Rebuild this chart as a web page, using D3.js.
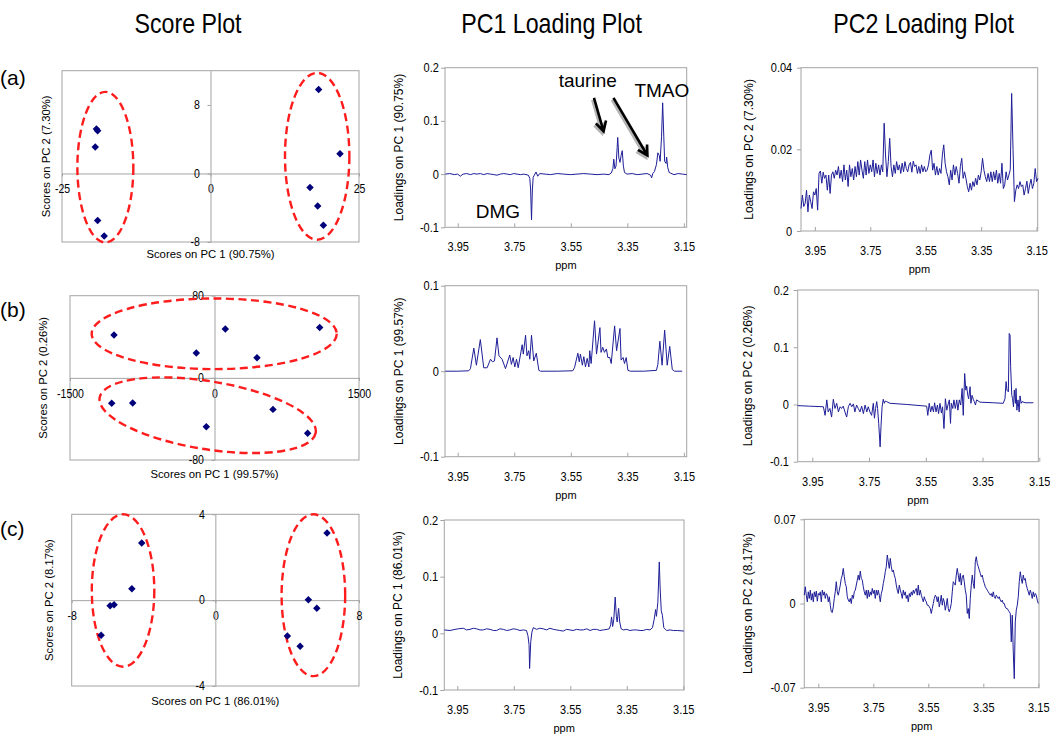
<!DOCTYPE html>
<meta charset="utf-8">
<style>
    body { margin: 0; background: #fff; }
    svg { font-family: "Liberation Sans", Arial, sans-serif; fill: #000; }
    .frame { fill: none; stroke: #a3a3a3; stroke-width: 1; }
    .axis path, .axis line { stroke: #a3a3a3; }
    .spec { fill: none; stroke: #1e1e98; stroke-width: 1; stroke-linejoin: round; }
    .ring { fill: none; stroke: #ff1c1c; stroke-width: 2.4; stroke-dasharray: 8,4.5; }
    .dot { fill: #00007a; }
</style>
<svg width="1050" height="735"></svg>
<script src="https://cdn.jsdelivr.net/npm/d3@7"></script>
<script>

    // ---- score plots: PC1 / PC2 scores of the ten samples ----
    var scoreA_PC1 = [-19.2, -19.0, -19.4, -19.0, -17.9, 18.2, 21.8, 16.75, 18.05, 19.0];
    var scoreA_PC2 = [5.2, 5.0, 3.1, -5.5, -7.3, 9.8, 2.3, -1.65, -3.8, -6.05];
    var scoreB_PC1 = [-1043, 112, 1092, -189, 441, -1067, -849, -85, 607, 967];
    var scoreB_PC2 = [41.7, 47.5, 49.1, 24.1, 19.6, -24.8, -24.5, -47.6, -30.7, -54];
    var scoreC_PC1 = [-4.10, -4.65, -5.86, -5.64, -6.36, 6.22, 5.18, 5.65, 4.01, 4.72];
    var scoreC_PC2 = [2.66, 0.53, -0.26, -0.21, -1.64, 3.13, 0.02, -0.38, -1.67, -2.15];

    // group rings: centre x, centre y, half width, half height (data units), tilt in degrees
    var ringsA = [[-17.7, 0.74, 4.71, 8.79, 0], [17.96, 2.01, 5.42, 9.74, 0]];
    var ringsB = [[-3, 42.9, 1272, 34.4, 0], [-71, -36.4, 1136, 33.1, 9.2]];
    var ringsC = [[-5.14, 0.45, 1.74, 3.55, 0], [5.46, 0.23, 1.77, 3.77, 0]];

    var scoreTicksA = {x: [-25, 0, 25], y: [-8, 0, 8]};
    var scoreTicksB = {x: [-1500, 0, 1500], y: [-80, 0, 80]};
    var scoreTicksC = {x: [-8, 0, 8], y: [-4, 0, 4]};

    // ---- loading spectra, [ppm, loading] ----
    var pc1a = [[3.994,0],[3.978,0.001],[3.962,-0.001],[3.950,0.000],[3.941,-0.004],[3.931,0],[3.918,0.001],
        [3.905,-0.001],[3.893,0.001],[3.882,0],[3.870,0.001],[3.858,-0.001],[3.846,0.001],[3.834,0],
        [3.822,-0.001],[3.811,-0.002],[3.799,0],[3.787,0.001],[3.775,0],[3.764,-0.001],[3.752,0.001],
        [3.740,0],[3.728,-0.001],[3.716,0],[3.700,-0.002],[3.695,-0.008],[3.692,-0.03],[3.689,-0.086],
        [3.686,-0.03],[3.683,-0.006],[3.679,-0.002],[3.673,0.004],[3.667,-0.004],[3.660,0.001],
        [3.641,0],[3.622,-0.001],[3.598,0.001],[3.575,0],[3.552,-0.001],[3.528,0],[3.504,0.001],
        [3.480,0],[3.457,-0.001],[3.433,0],[3.415,-0.001],[3.407,0.002],[3.401,0.010],[3.398,0.028],
        [3.394,0.010],[3.390,0.015],[3.386,0.05],[3.384,0.069],[3.380,0.030],[3.376,0.022],[3.372,0.035],
        [3.368,0.044],[3.364,0.015],[3.360,0.003],[3.351,0],[3.333,0.001],[3.315,-0.001],[3.298,0],
        [3.280,0.001],[3.268,-0.002],[3.264,-0.007],[3.260,0.001],[3.254,0.005],[3.247,0.018],
        [3.242,0.040],[3.237,0.035],[3.234,0.024],[3.229,0.07],[3.225,0.134],[3.221,0.07],[3.218,0.024],
        [3.213,0.020],[3.211,0.032],[3.207,0.012],[3.202,0.003],[3.185,-0.001],[3.170,0.001],
        [3.155,0],[3.140,-0.001]];

    var pc1b = [[3.994,0],[3.950,0],[3.911,0.0005],[3.905,0.003],[3.893,0.027],[3.884,0.007],
        [3.870,0.037],[3.858,0.004],[3.846,0.004],[3.834,0.014],[3.827,0.011],[3.820,0.012],
        [3.811,0.039],[3.804,0.018],[3.793,0.014],[3.781,0.003],[3.766,0.019],[3.760,0.008],
        [3.754,0.016],[3.748,0.005],[3.742,0.014],[3.736,0.004],[3.722,0.031],[3.718,0.020],
        [3.710,0.042],[3.705,0.018],[3.699,0.024],[3.695,0.014],[3.689,0.042],[3.681,0.012],
        [3.672,0.021],[3.663,0.001],[3.657,0],[3.598,0],[3.543,0.0005],[3.537,0.004],[3.525,0.021],
        [3.520,0.011],[3.516,0.020],[3.509,0.007],[3.504,0.017],[3.498,0.005],[3.492,0.015],
        [3.486,0.005],[3.483,0.024],[3.478,0.009],[3.466,0.059],[3.459,0.020],[3.447,0.051],
        [3.443,0.022],[3.437,0.028],[3.431,0.022],[3.424,0.026],[3.419,0.016],[3.412,0.016],
        [3.407,0.009],[3.395,0.053],[3.388,0.024],[3.376,0.050],[3.372,0.013],[3.365,0.016],
        [3.360,0.009],[3.354,0.016],[3.348,0.001],[3.339,0],[3.292,0],[3.247,0.001],[3.242,0.008],
        [3.235,0.035],[3.227,0.007],[3.218,0.048],[3.209,0.007],[3.200,0.029],[3.191,0.002],
        [3.183,0],[3.156,0]];

    var pc1c = [[3.996,0.006],[3.976,0.005],[3.958,0.007],[3.946,0.008],[3.929,0.009],[3.917,0.006],
        [3.905,0.007],[3.893,0.009],[3.882,0.008],[3.870,0.006],[3.858,0.006],[3.846,0.008],
        [3.834,0.007],[3.822,0.005],[3.811,0.005],[3.799,0.008],[3.787,0.007],[3.775,0.005],
        [3.764,0.006],[3.752,0.008],[3.740,0.007],[3.728,0.005],[3.716,0.006],[3.705,0.005],
        [3.700,-0.004],[3.696,-0.02],[3.694,-0.062],[3.690,-0.015],[3.686,0.002],[3.681,0.010],
        [3.669,0.007],[3.658,0.009],[3.646,0.008],[3.634,0.006],[3.622,0.009],[3.610,0.007],
        [3.598,0.006],[3.587,0.005],[3.575,0.004],[3.563,0.007],[3.551,0.006],[3.540,0.005],
        [3.528,0.007],[3.516,0.006],[3.504,0.006],[3.492,0.008],[3.480,0.005],[3.469,0.007],
        [3.457,0.007],[3.445,0.005],[3.433,0.006],[3.420,0.007],[3.412,0.008],[3.407,0.015],
        [3.404,0.029],[3.400,0.012],[3.396,0.025],[3.391,0.064],[3.387,0.030],[3.384,0.020],
        [3.379,0.044],[3.375,0.020],[3.370,0.008],[3.362,0.006],[3.350,0.007],[3.339,0.005],
        [3.327,0.006],[3.315,0.006],[3.303,0.005],[3.292,0.005],[3.280,0.007],[3.268,0.006],
        [3.259,0.010],[3.253,0.025],[3.248,0.042],[3.245,0.030],[3.240,0.055],[3.235,0.126],
        [3.232,0.080],[3.228,0.040],[3.224,0.032],[3.219,0.010],[3.209,0.005],[3.197,0.006],
        [3.185,0.005],[3.170,0.005],[3.148,0.004]];

    var pc2b = [[4.002,-0.002],[3.960,-0.003],[3.911,-0.004],[3.905,-0.019],[3.899,0.008],[3.894,-0.013],
        [3.888,-0.007],[3.882,-0.022],[3.876,0.009],[3.870,-0.007],[3.864,0.002],[3.858,-0.013],
        [3.852,-0.004],[3.847,-0.007],[3.841,-0.003],[3.835,-0.013],[3.829,-0.022],[3.823,-0.004],
        [3.817,0.002],[3.811,-0.004],[3.805,0.001],[3.800,-0.013],[3.794,-0.001],[3.788,-0.007],
        [3.782,-0.013],[3.776,-0.003],[3.770,-0.016],[3.764,-0.001],[3.758,-0.013],[3.753,-0.004],
        [3.747,-0.013],[3.741,-0.019],[3.735,0.002],[3.731,-0.024],[3.727,-0.007],[3.723,0.005],
        [3.720,-0.007],[3.716,-0.033],[3.711,-0.074],[3.708,-0.039],[3.704,-0.004],[3.700,0.009],
        [3.696,0.002],[3.693,0.006],[3.688,0.005],[3.676,0.002],[3.617,0],[3.547,-0.003],
        [3.543,-0.019],[3.538,0.002],[3.533,-0.013],[3.528,-0.003],[3.523,-0.013],[3.519,0.003],
        [3.514,-0.013],[3.509,-0.001],[3.505,-0.016],[3.500,0.002],[3.495,-0.015],[3.491,-0.004],
        [3.486,-0.042],[3.481,0.010],[3.476,-0.010],[3.472,-0.001],[3.467,0.008],[3.463,-0.033],
        [3.460,0.002],[3.455,-0.007],[3.451,0.008],[3.446,-0.007],[3.441,0.008],[3.437,-0.010],
        [3.432,0.008],[3.427,-0.001],[3.422,0.028],[3.418,-0.019],[3.413,0.054],[3.409,0.025],
        [3.406,0.032],[3.402,0.016],[3.399,0.010],[3.394,0.031],[3.391,0.002],[3.387,0.016],
        [3.382,0.008],[3.379,0.005],[3.375,-0.001],[3.371,0.008],[3.359,0.004],[3.312,0.003],
        [3.277,0.002],[3.271,0.010],[3.267,0.040],[3.264,0.025],[3.259,0.022],[3.256,0.124],
        [3.253,0.121],[3.251,0.066],[3.247,0.016],[3.244,0.010],[3.241,-0.004],[3.238,0.025],
        [3.234,0.002],[3.232,0.028],[3.229,-0.010],[3.225,0.008],[3.221,-0.013],[3.218,0.015],
        [3.214,0.002],[3.211,0.005],[3.200,0.003],[3.171,0.003]];

    // evenly sampled spectra: first ppm, ppm step, loadings
    var pc2aStart = 4.000, pc2aStep = 0.005;
    var pc2aLoad = [
        .0055,.0088,.0060,.0068,.0100,.0047,.0088,.0072,.0055,.0096,
        .0088,.0104,.0051,.0141,.0147,.0117,.0144,.0129,.0137,.0100,
        .0137,.0092,.0137,.0145,.0129,.0149,.0137,.0158,.0129,.0149,
        .0121,.0162,.0125,.0149,.0109,.0162,.0133,.0153,.0125,.0158,
        .0133,.0170,.0137,.0174,.0149,.0129,.0170,.0137,.0174,.0141,
        .0162,.0145,.0174,.0133,.0166,.0141,.0162,.0137,.0162,.0145,
        .0264,.0186,.0133,.0170,.0227,.0158,.0133,.0162,.0141,.0170,
        .0149,.0162,.0141,.0166,.0145,.0170,.0153,.0145,.0162,.0168,
        .0144,.0171,.0158,.0162,.0141,.0158,.0141,.0162,.0145,.0158,
        .0145,.0149,.0162,.0186,.0198,.0149,.0166,.0137,.0158,.0137,
        .0153,.0141,.0186,.0211,.0166,.0145,.0133,.0113,.0149,.0125,
        .0162,.0137,.0158,.0141,.0117,.0158,.0178,.0129,.0145,.0129,
        .0109,.0096,.0117,.0100,.0121,.0109,.0129,.0113,.0137,.0125,
        .0145,.0178,.0149,.0133,.0121,.0141,.0121,.0145,.0121,.0145,
        .0125,.0149,.0117,.0141,.0117,.0166,.0104,.0113,.0145,.0125,
        .0137,.0150,.0337,.0200,.0072,.0100,.0113,.0104,.0121,.0109,
        .0113,.0088,.0104,.0122,.0092,.0113,.0127,.0104,.0117,.0153,
        .0121,.0129];

    var pc2cStart = 4.001, pc2cStep = 0.003636;
    var pc2cLoad = [
        .0069,.0139,.0069,.0014,.0097,.0042,.0111,.0028,.0083,.0014,
        .0097,.0056,.0103,.0019,.0083,.0069,.0097,.0014,.0111,.0069,
        .0097,.0042,.0083,.0069,.0014,.0056,-.0014,-.0069,-.0075,-.0028,
        .0042,.0097,.0181,.0097,.0069,.0111,.0153,.0208,.0236,.0292,
        .0222,.0167,.0139,.0056,.0028,.0014,.0042,0,.0069,.0042,
        .0097,.0111,.0153,.0194,.0236,.0194,.0269,.0208,.0194,.0139,
        .0097,.0069,.0111,.0042,.0111,.0056,.0097,.0069,.0125,.0083,
        .0111,.0042,.0111,.0069,.0111,.0069,.0014,.0083,.0111,.0167,
        .0208,.0264,.0306,.0403,.0347,.0292,.0375,.0306,.0264,.0278,
        .0236,.0208,.0153,.0111,.0083,.0153,.0111,.0083,.0042,.0111,
        .0069,.0097,.0042,.0069,.0014,.0083,.0056,.0097,.0069,.0111,
        .0083,.0111,.0125,.0069,.0153,.0069,.0111,.0069,.0042,.0014,
        .0056,.0028,.0014,-.0014,-.0014,-.0028,-.0042,-.0083,-.0042,0,
        .0042,.0069,.0056,.0014,.0056,-.0028,.0014,.0069,-.0014,.0042,
        .0014,-.0056,-.0014,.0042,-.0042,-.0069,-.0042,0,.0097,.0181,
        .0167,.0153,.0236,.0292,.0236,.0181,.0250,.0153,.0222,.0236,
        .0181,.0111,.0069,
        -.0083,-.0042,-.0125,.0042,.0153,.0236,.0167,.0125,.0347,.0389,
        .0333,.0306,.0278,.0250,.0222,.0236,.0194,.0167,.0139,.0125,
        .0111,.0097,.0083,.0069,.0083,.0056,.0097,.0056,.0042,.0069,
        .0056,.0042,.0056,.0028,.0014,.0028,0,0,-.0028,-.0042,
        -.0042,-.0056,-.0069,-.0083,-.0319,-.0097,-.0403,-.0625,-.0153,-.0056,
        -.0014,.0056,.0181,.0264,.0208,.0167,.0236,.0194,.0208,.0153,
        .0125,.0097,.0069,.0111,.0083,.0042,.0097,.0056,.0083,.0069,
        .0028,0];

    var ppmTicks = [3.95, 3.75, 3.55, 3.35, 3.15];

    // labels on the PC1 loading of panel (a): text, ppm, loading (baseline)
    var notesPC1a = [["taurine", 3.49, 0.164], ["TMAO", 3.228, 0.1444], ["DMG", 3.808, -0.082]];
    // arrows: from ppm, loading -> to ppm, loading
    var arrowsPC1a = [[3.468, 0.1434, 3.434, 0.0805], [3.399, 0.1434, 3.279, 0.035]];

    function fromGrid(start, step, vals) {
        return vals.map(function(v, i) { return [start - i * step, v]; });
    }

    var svg = d3.select("svg");
    var fmt = function(d) { return String(d); };

    // tick text: black, a little narrow like the original figure
    function tickText(a, size) {
        a.attr("font-family", null);
        a.selectAll("text").style("font-size", size).attr("fill", "#000")
            .attr("transform", "scale(0.88,1)");
    }

    // column titles
    [["Score Plot", 188], ["PC1 Loading Plot", 551.5], ["PC2 Loading Plot", 923.5]].forEach(function(t) {
        svg.append("text")
            .attr("transform", "translate(" + t[1] + ",33) scale(0.86,1)")
            .attr("text-anchor", "middle")
            .style("font-size", "27px")
            .text(t[0]);
    });

    [["(a)", 85], ["(b)", 317], ["(c)", 536]].forEach(function(t) {
        svg.append("text").attr("x", 0).attr("y", t[1]).style("font-size", "21px").text(t[0]);
    });

    // ---------------- score plots ----------------
    var scorePanels = [
        {box: [62, 70.7, 359, 242], xDom: [-25, 25], yDom: [-8, 12], ticks: scoreTicksA,
            px: scoreA_PC1, py: scoreA_PC2, rings: ringsA, xTitle: "Scores on PC 1 (90.75%)",
            yTitle: "Scores on PC 2 (7.30%)", yTitleX: 46, xTitleDy: 12},
        {box: [70, 295.7, 359, 460], xDom: [-1500, 1500], yDom: [-80, 80], ticks: scoreTicksB,
            px: scoreB_PC1, py: scoreB_PC2, rings: ringsB, xTitle: "Scores on PC 1 (99.57%)",
            yTitle: "Scores on PC 2 (0.26%)", yTitleX: 43, xTitleDy: 14},
        {box: [71.7, 514.3, 359, 686], xDom: [-8, 8], yDom: [-4, 4], ticks: scoreTicksC,
            px: scoreC_PC1, py: scoreC_PC2, rings: ringsC, xTitle: "Scores on PC 1 (86.01%)",
            yTitle: "Scores on PC 2 (8.17%)", yTitleX: 49, xTitleDy: 15.5}
    ];

    scorePanels.forEach(function(p) {
        var x = d3.scaleLinear().domain(p.xDom).range([p.box[0], p.box[2]]),
            y = d3.scaleLinear().domain(p.yDom).range([p.box[3], p.box[1]]);
        var g = svg.append("g");

        g.append("rect").attr("class", "frame")
            .attr("x", p.box[0]).attr("y", p.box[1])
            .attr("width", p.box[2] - p.box[0]).attr("height", p.box[3] - p.box[1]);

        g.append("g").attr("class", "axis")
            .attr("transform", "translate(0," + y(0) + ")")
            .call(d3.axisBottom(x).tickValues(p.ticks.x).tickFormat(fmt).tickSizeInner(3).tickSizeOuter(0).tickPadding(8.5))
            .call(tickText, "12px");

        g.append("g").attr("class", "axis")
            .attr("transform", "translate(" + x(0) + ",0)")
            .call(d3.axisLeft(y).tickValues(p.ticks.y).tickFormat(fmt).tickSizeInner(3).tickSizeOuter(0).tickPadding(9))
            .call(tickText, "12px");

        g.selectAll("ellipse").data(p.rings).join("ellipse")
            .attr("class", "ring")
            .attr("cx", function(r) { return x(r[0]); })
            .attr("cy", function(r) { return y(r[1]); })
            .attr("rx", function(r) { return x(r[0] + r[2]) - x(r[0]); })
            .attr("ry", function(r) { return y(r[1]) - y(r[1] + r[3]); })
            .attr("transform", function(r) { return "rotate(" + r[4] + "," + x(r[0]) + "," + y(r[1]) + ")"; });

        g.selectAll("path.dot").data(d3.range(p.px.length)).join("path")
            .attr("class", "dot")
            .attr("d", d3.symbol(d3.symbolSquare, 28))
            .attr("transform", function(i) { return "translate(" + x(p.px[i]) + "," + y(p.py[i]) + ") rotate(45)"; });

        g.append("text")
            .attr("x", (p.box[0] + p.box[2]) / 2).attr("y", p.box[3] + p.xTitleDy)
            .attr("dy", "0.35em").attr("text-anchor", "middle")
            .style("font-size", "11.3px").text(p.xTitle);

        g.append("text")
            .attr("transform", "translate(" + p.yTitleX + "," + (p.box[1] + p.box[3]) / 2 + ") rotate(-90)")
            .attr("dy", "0.35em").attr("text-anchor", "middle")
            .style("font-size", "11.3px").text(p.yTitle);
    });

    // ---------------- loading plots ----------------
    var loadPanels = [
        {box: [445, 67.7, 686.7, 227.3], xDom: [3.995, 3.14], yDom: [-0.1, 0.2], yTicks: [-0.1, 0, 0.1, 0.2],
            data: pc1a, yTitle: "Loadings on PC 1 (90.75%)", yTitleX: 399, pad: 3},
        {box: [445, 285.7, 686.7, 456.7], xDom: [3.995, 3.14], yDom: [-0.1, 0.1], yTicks: [-0.1, 0, 0.1],
            data: pc1b, yTitle: "Loadings on PC 1 (99.57%)", yTitleX: 399, pad: 3},
        {box: [444.3, 520, 684, 690], xDom: [3.996, 3.1475], yDom: [-0.1, 0.2], yTicks: [-0.1, 0, 0.1, 0.2],
            data: pc1c, yTitle: "Loadings on PC 1 (86.01%)", yTitleX: 398, pad: 3},
        {box: [801, 67.7, 1037.7, 231], xDom: [4.0, 3.146], yDom: [0, 0.04], yTicks: [0, 0.02, 0.04],
            data: fromGrid(pc2aStart, pc2aStep, pc2aLoad), yTitle: "Loadings on PC 2 (7.30%)", yTitleX: 749, pad: 6},
        {box: [797.7, 290, 1038.3, 461.7], xDom: [4.0015, 3.1535], yDom: [-0.1, 0.2], yTicks: [-0.1, 0, 0.1, 0.2],
            data: pc2b, yTitle: "Loadings on PC 2 (0.26%)", yTitleX: 748, pad: 6},
        {box: [804.3, 519.3, 1039, 687.7], xDom: [4.001, 3.1475], yDom: [-0.07, 0.07], yTicks: [-0.07, 0, 0.07],
            data: fromGrid(pc2cStart, pc2cStep, pc2cLoad), yTitle: "Loadings on PC 2 (8.17%)", yTitleX: 748, pad: 6}
    ];

    loadPanels.forEach(function(p, k) {
        var x = d3.scaleLinear().domain(p.xDom).range([p.box[0], p.box[2]]),
            y = d3.scaleLinear().domain(p.yDom).range([p.box[3], p.box[1]]);
        var g = svg.append("g");

        g.append("g").attr("class", "axis")
            .attr("transform", "translate(0," + p.box[3] + ")")
            .call(d3.axisBottom(x).tickValues(ppmTicks).tickFormat(fmt).tickSizeInner(-4).tickSizeOuter(0).tickPadding(15))
            .call(tickText, "12.5px")
            .call(function(a) { a.select(".domain").remove(); });

        g.append("g").attr("class", "axis")
            .attr("transform", "translate(" + p.box[0] + ",0)")
            .call(d3.axisLeft(y).tickValues(p.yTicks).tickFormat(fmt).tickSizeInner(4).tickSizeOuter(0).tickPadding(p.pad))
            .call(tickText, "12.5px")
            .call(function(a) { a.select(".domain").remove(); });

        g.append("rect").attr("class", "frame")
            .attr("x", p.box[0]).attr("y", p.box[1])
            .attr("width", p.box[2] - p.box[0]).attr("height", p.box[3] - p.box[1]);

        var line = d3.line()
            .x(function(d) { return x(d[0]); })
            .y(function(d) { return y(d[1]); });

        g.append("path").attr("class", "spec").datum(p.data).attr("d", line);

        g.append("text")
            .attr("x", (p.box[0] + p.box[2]) / 2).attr("y", p.box[3] + 38)
            .attr("dy", "0.35em").attr("text-anchor", "middle")
            .style("font-size", "11px").text("ppm");

        g.append("text")
            .attr("transform", "translate(" + p.yTitleX + "," + (p.box[1] + p.box[3]) / 2 + ") rotate(-90)")
            .attr("dy", "0.35em").attr("text-anchor", "middle")
            .style("font-size", "12px").text(p.yTitle);

        if (k === 0) {
            g.selectAll("text.note").data(notesPC1a).join("text")
                .attr("class", "note")
                .attr("x", function(d) { return x(d[1]); })
                .attr("y", function(d) { return y(d[2]); })
                .attr("text-anchor", "middle")
                .style("font-size", "19px")
                .text(function(d) { return d[0]; });

            var arrow = function(a, dx, dy) {
                var x1 = x(a[0]) + dx, y1 = y(a[1]) + dy, x2 = x(a[2]) + dx, y2 = y(a[3]) + dy;
                var ang = Math.atan2(y2 - y1, x2 - x1), h = 11, s = 0.5;
                var pth = d3.path();
                pth.moveTo(x1, y1); pth.lineTo(x2, y2);
                pth.moveTo(x2 - h * Math.cos(ang - s), y2 - h * Math.sin(ang - s));
                pth.lineTo(x2, y2);
                pth.lineTo(x2 - h * Math.cos(ang + s), y2 - h * Math.sin(ang + s));
                return pth.toString();
            };
            g.selectAll("path.shade").data(arrowsPC1a).join("path")
                .attr("class", "shade")
                .attr("d", function(a) { return arrow(a, -1.5, 2); })
                .attr("fill", "none").attr("stroke", "#b4b4b4").attr("stroke-width", 3);
            g.selectAll("path.arrow").data(arrowsPC1a).join("path")
                .attr("class", "arrow")
                .attr("d", function(a) { return arrow(a, 0, 0); })
                .attr("fill", "none").attr("stroke", "#000").attr("stroke-width", 2.6);
        }
    });
</script>
